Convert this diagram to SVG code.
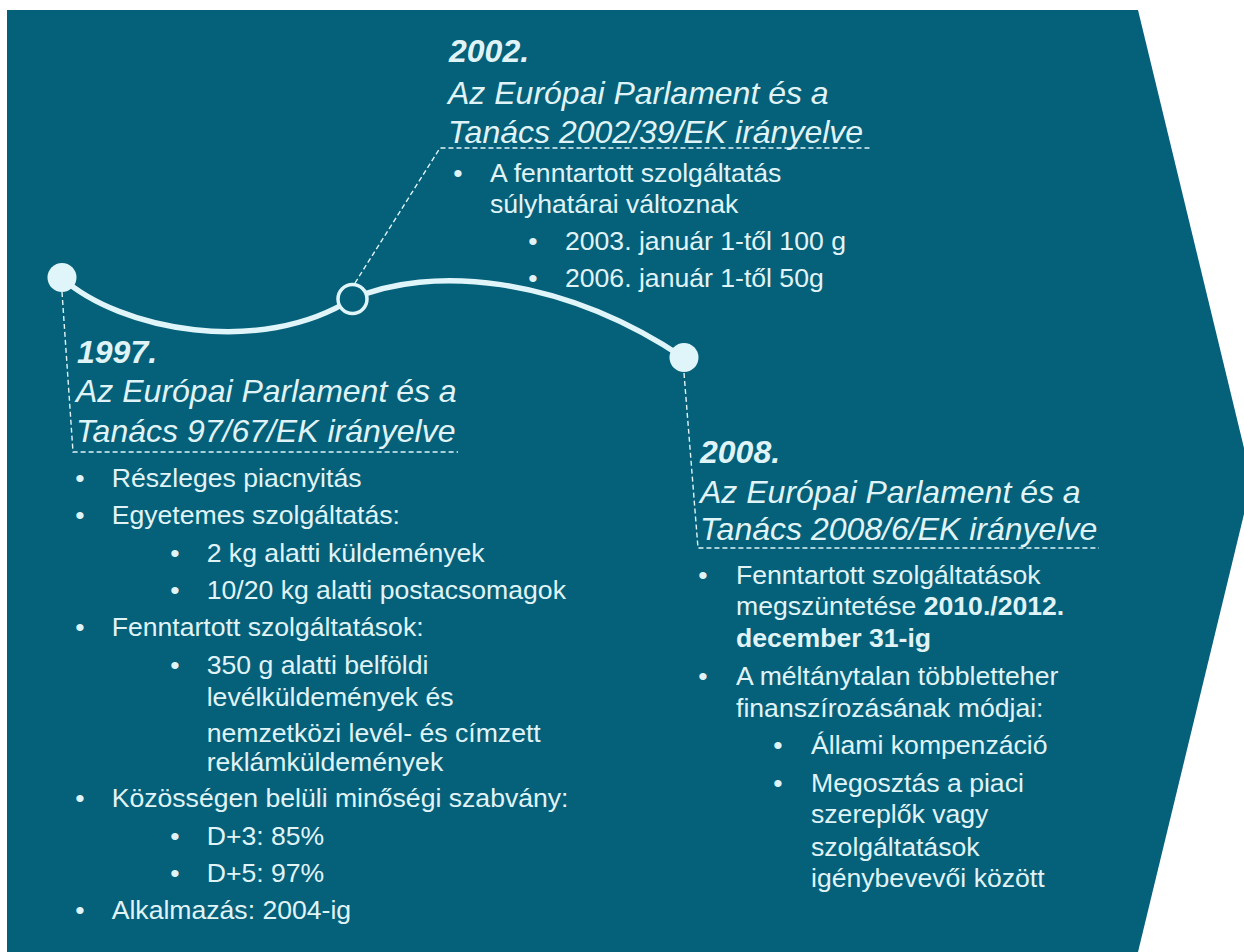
<svg xmlns="http://www.w3.org/2000/svg" width="1244" height="952" viewBox="0 0 1244 952">
<style>
.bg{fill:#05607a}
.curve{fill:none;stroke:#dff5f9;stroke-width:5.5;stroke-linecap:round}
.lead{fill:none;stroke:#dff5f9;stroke-width:1.4;stroke-dasharray:5 3}
.dot{fill:#dff5f9}
.ring{fill:#05607a;stroke:#dff5f9;stroke-width:3.5}
text{font-family:"Liberation Sans",Arial,sans-serif;fill:#e0f4f8}
.yr{font-size:32px;font-weight:bold;font-style:italic}
.ti{font-size:32px;font-style:italic}
.b{font-size:26.6px}
.bu{font-size:26.6px;text-anchor:middle}
.bold{font-weight:bold}
</style>
<polygon class="bg" points="7,10 1138,10 1252,481 1138,952 7,952"/>
<g id="connectors">
<path class="curve" d="M62,278 C120,330 260,357 352,299 C430,265 560,275 684,358"/>
<polyline class="lead" points="62,292 73,452 458,452"/>
<polyline class="lead" points="355,283 440,148 870,148"/>
<polyline class="lead" points="684,373 698,548 1099,548"/>
</g>
<g id="node-1997">
<circle class="dot" cx="62" cy="277.5" r="14.5"/>
<text class="yr" x="77" y="363">1997.</text>
<text class="ti" x="76" y="402">Az Európai Parlament és a</text>
<text class="ti" x="76" y="442">Tanács 97/67/EK irányelve</text>
<text class="bu" x="80" y="487">•</text><text class="b" x="111.7" y="487">Részleges piacnyitás</text>
<text class="bu" x="80" y="524">•</text><text class="b" x="111.7" y="524">Egyetemes szolgáltatás:</text>
<text class="bu" x="175" y="562">•</text><text class="b" x="206.7" y="562">2 kg alatti küldemények</text>
<text class="bu" x="175" y="599">•</text><text class="b" x="206.7" y="599">10/20 kg alatti postacsomagok</text>
<text class="bu" x="80" y="636">•</text><text class="b" x="111.7" y="636">Fenntartott szolgáltatások:</text>
<text class="bu" x="175" y="674">•</text><text class="b" x="206.7" y="674">350 g alatti belföldi</text>
<text class="b" x="206.7" y="706">levélküldemények és</text>
<text class="b" x="206.7" y="742">nemzetközi levél- és címzett</text>
<text class="b" x="206.7" y="771">reklámküldemények</text>
<text class="bu" x="80" y="807">•</text><text class="b" x="111.7" y="807">Közösségen belüli minőségi szabvány:</text>
<text class="bu" x="175" y="845">•</text><text class="b" x="206.7" y="845">D+3: 85%</text>
<text class="bu" x="175" y="882">•</text><text class="b" x="206.7" y="882">D+5: 97%</text>
<text class="bu" x="80" y="919">•</text><text class="b" x="111.7" y="919">Alkalmazás: 2004-ig</text>
</g>
<g id="node-2002">
<circle class="ring" cx="352.5" cy="299" r="14.5"/>
<text class="yr" x="449" y="62">2002.</text>
<text class="ti" x="448" y="104">Az Európai Parlament és a</text>
<text class="ti" x="448" y="143">Tanács 2002/39/EK irányelve</text>
<text class="bu" x="458" y="182">•</text><text class="b" x="490" y="182">A fenntartott szolgáltatás</text>
<text class="b" x="490" y="213">súlyhatárai változnak</text>
<text class="bu" x="533" y="250">•</text><text class="b" x="565" y="250">2003. január 1-től 100 g</text>
<text class="bu" x="533" y="287">•</text><text class="b" x="565" y="287">2006. január 1-től 50g</text>
</g>
<g id="node-2008">
<circle class="dot" cx="684" cy="357.5" r="14.5"/>
<text class="yr" x="700" y="463">2008.</text>
<text class="ti" x="700" y="503">Az Európai Parlament és a</text>
<text class="ti" x="700" y="540">Tanács 2008/6/EK irányelve</text>
<text class="bu" x="703" y="584">•</text><text class="b" x="736" y="584">Fenntartott szolgáltatások</text>
<text class="b" x="736" y="615">megszüntetése <tspan class="bold">2010./2012.</tspan></text>
<text class="b bold" x="736" y="647">december 31-ig</text>
<text class="bu" x="703" y="685">•</text><text class="b" x="736" y="685">A méltánytalan többletteher</text>
<text class="b" x="736" y="717">finanszírozásának módjai:</text>
<text class="bu" x="778" y="754">•</text><text class="b" x="811" y="754">Állami kompenzáció</text>
<text class="bu" x="778" y="792">•</text><text class="b" x="811" y="792">Megosztás a piaci</text>
<text class="b" x="811" y="823">szereplők vagy</text>
<text class="b" x="811" y="856">szolgáltatások</text>
<text class="b" x="811" y="887">igénybevevői között</text>
</g>
</svg>
